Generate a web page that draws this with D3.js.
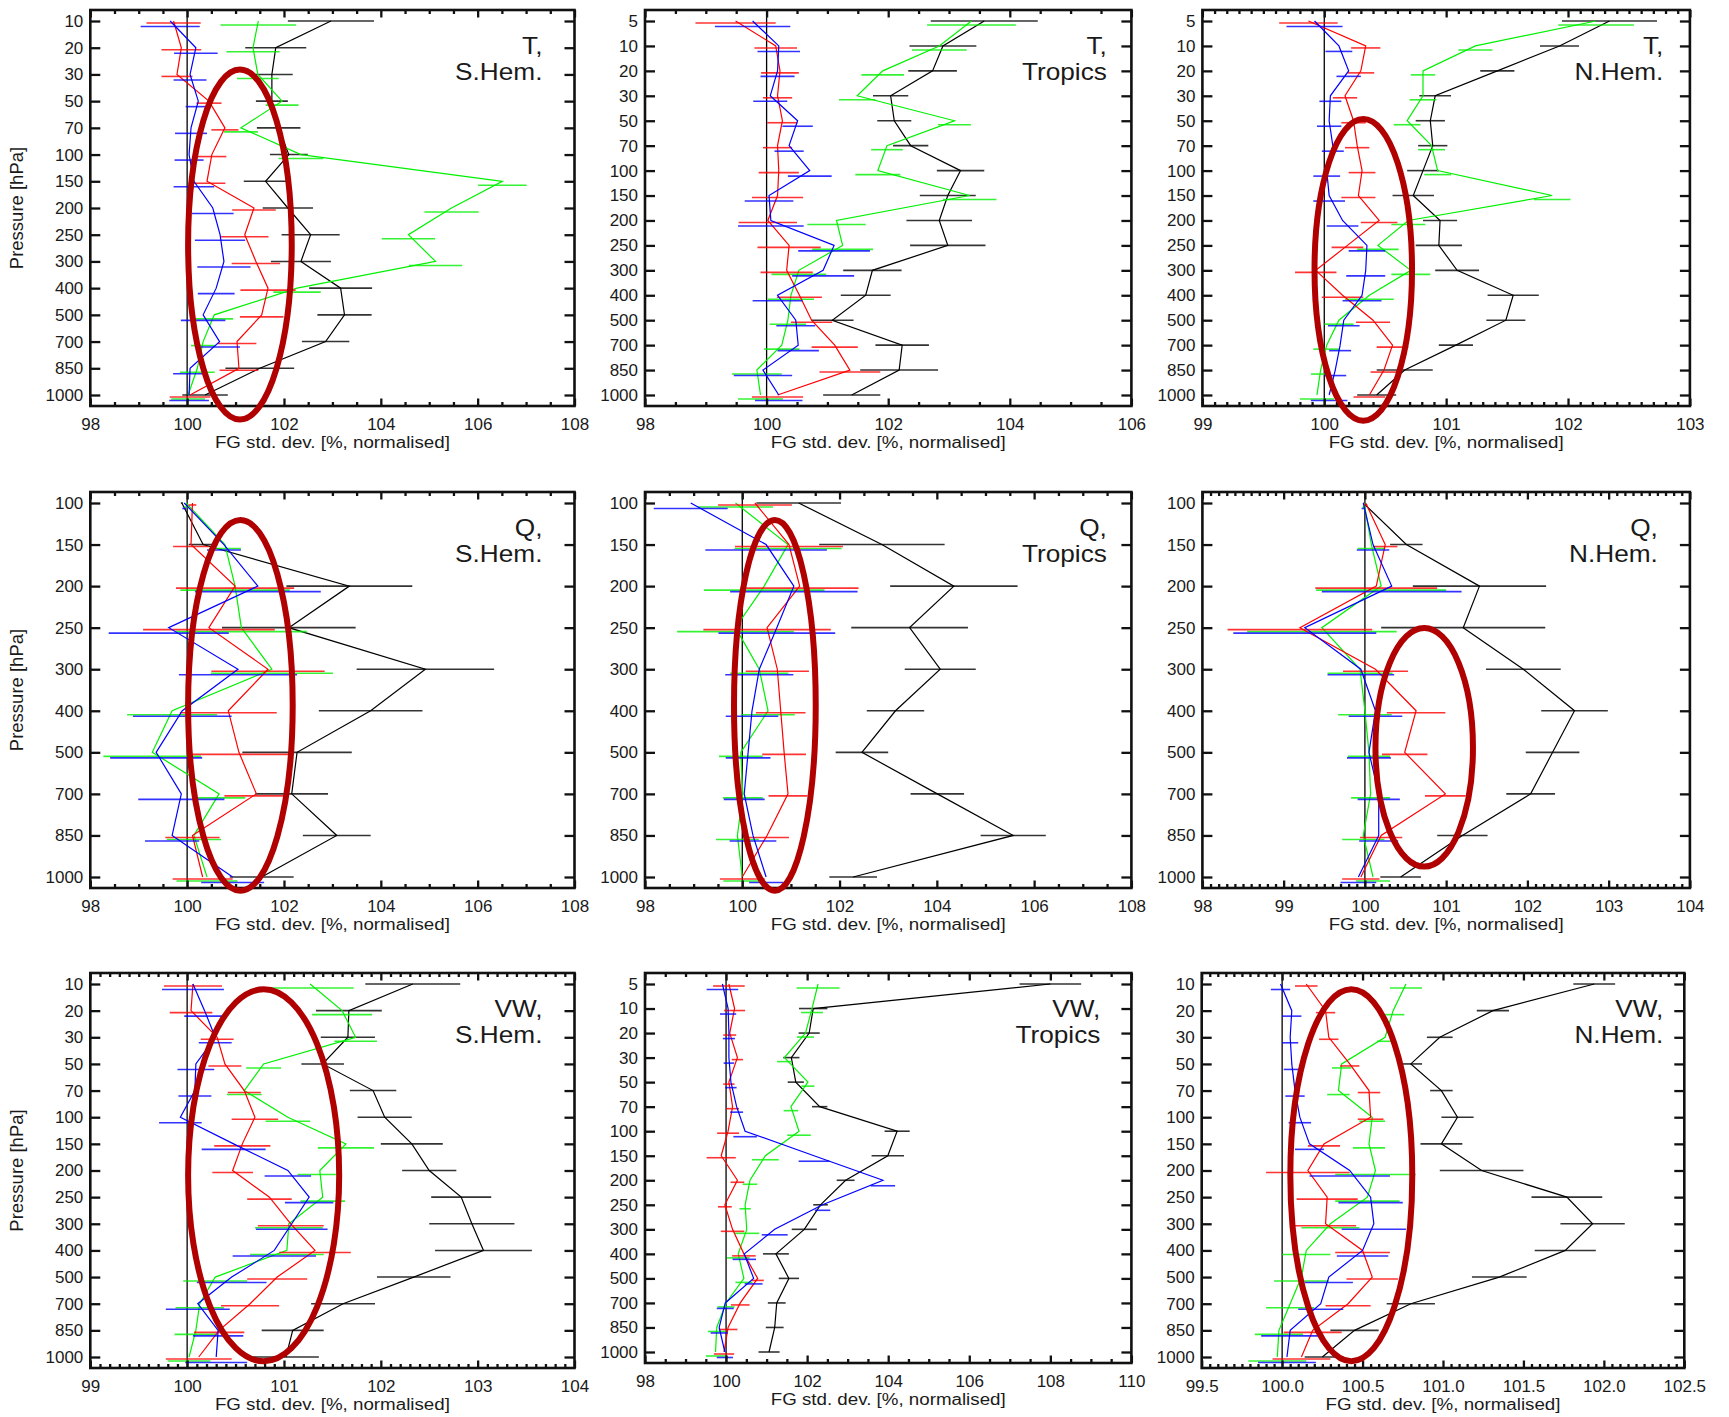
<!DOCTYPE html>
<html>
<head>
<meta charset="utf-8">
<script src="https://cdn.jsdelivr.net/npm/d3@7"></script>
<style>
  body { margin: 0; background: #fff; }
  svg { display: block; }
  text { font-family: "Liberation Sans", Arial, Helvetica, sans-serif; fill: #1a1a1a; }
</style>
</head>
<body>
<div id="chart"></div>
<script>
// Pressure levels [hPa]
const levels5 = [5, 10, 20, 30, 50, 70, 100, 150, 200, 250, 300, 400, 500, 700, 850, 1000]
const levels10 = [10, 20, 30, 50, 70, 100, 150, 200, 250, 300, 400, 500, 700, 850, 1000]
const levels100 = [100, 150, 200, 250, 300, 400, 500, 700, 850, 1000]

// T, S.Hem.
const tSH_k = [102.97, 101.83, 101.75, 101.75, 101.89, 102.10, 101.62, 102.08, 102.55, 102.35, 103.17, 103.25, 102.86, 101.50, 100.37]
const tSH_kErr = [0.89, 0.63, 0.43, 0.33, 0.45, 0.39, 0.45, 0.52, 0.60, 0.62, 0.65, 0.56, 0.49, 0.71, 0.47]
const tSH_g = [101.47, 101.36, 101.46, 101.96, 101.11, 102.35, 106.51, 105.46, 104.57, 105.13, 102.27, 100.56, 100.33, 100.21, 100.02]
const tSH_gErr = [0.78, 0.55, 0.43, 0.34, 0.35, 0.46, 0.50, 0.56, 0.55, 0.55, 0.49, 0.39, 0.25, 0.36, 0.35]
const tSH_r = [99.72, 99.88, 99.79, 100.45, 100.78, 100.51, 100.41, 101.38, 101.19, 101.42, 101.67, 101.54, 101.03, 101.07, 100.06]
const tSH_rErr = [0.56, 0.41, 0.32, 0.26, 0.28, 0.30, 0.38, 0.45, 0.49, 0.50, 0.57, 0.45, 0.40, 0.40, 0.42]
const tSH_b = [99.65, 100.18, 100.06, 100.23, 100.08, 100.04, 100.14, 100.53, 100.68, 100.76, 100.60, 100.33, 100.67, 100.06, 100.04]
const tSH_bErr = [0.61, 0.45, 0.34, 0.26, 0.33, 0.30, 0.42, 0.43, 0.52, 0.55, 0.38, 0.46, 0.42, 0.35, 0.41]

// T, Tropics
const tTR_k = [103.58, 102.90, 102.73, 102.04, 102.10, 102.37, 103.19, 102.98, 102.84, 102.98, 101.74, 101.63, 101.08, 102.23, 102.18, 101.40]
const tTR_kErr = [0.88, 0.55, 0.40, 0.29, 0.28, 0.29, 0.39, 0.46, 0.54, 0.62, 0.48, 0.41, 0.35, 0.44, 0.64, 0.47]
const tTR_g = [103.37, 102.84, 101.91, 101.49, 103.09, 101.98, 101.83, 103.34, 101.15, 101.25, 100.53, 100.40, 100.35, 100.25, 99.84, 99.90]
const tTR_gErr = [0.73, 0.45, 0.35, 0.30, 0.27, 0.26, 0.37, 0.44, 0.48, 0.50, 0.45, 0.38, 0.30, 0.29, 0.41, 0.37]
const tTR_r = [99.49, 100.15, 100.22, 100.18, 100.26, 100.18, 100.20, 100.18, 100.02, 100.37, 100.33, 100.54, 100.74, 101.12, 101.37, 100.18]
const tTR_rErr = [0.66, 0.35, 0.31, 0.24, 0.25, 0.24, 0.33, 0.42, 0.48, 0.52, 0.43, 0.37, 0.34, 0.38, 0.50, 0.42]
const tTR_b = [99.77, 100.20, 100.18, 100.06, 100.51, 100.37, 100.71, 100.04, 100.07, 101.11, 100.93, 100.18, 100.48, 100.52, 99.94, 100.20]
const tTR_bErr = [0.62, 0.35, 0.28, 0.28, 0.25, 0.24, 0.36, 0.40, 0.54, 0.59, 0.51, 0.41, 0.32, 0.34, 0.48, 0.39]

// T, N.Hem.
const tNH_k = [102.34, 101.93, 101.42, 100.91, 100.87, 100.89, 100.81, 100.73, 100.95, 100.94, 101.09, 101.55, 101.49, 101.08, 100.66, 100.43]
const tNH_kErr = [0.39, 0.16, 0.14, 0.13, 0.12, 0.12, 0.13, 0.17, 0.14, 0.19, 0.18, 0.21, 0.16, 0.14, 0.23, 0.16]
const tNH_g = [102.23, 101.24, 100.81, 100.81, 100.68, 100.88, 100.93, 101.87, 100.69, 100.44, 100.71, 100.37, 100.12, 100.02, 99.97, 99.94]
const tNH_gErr = [0.31, 0.14, 0.10, 0.11, 0.11, 0.11, 0.11, 0.15, 0.14, 0.17, 0.16, 0.20, 0.12, 0.11, 0.08, 0.14]
const tNH_r = [99.87, 100.34, 100.30, 100.17, 100.24, 100.27, 100.31, 100.28, 100.45, 100.19, 99.93, 100.15, 100.40, 100.56, 100.49, 100.37]
const tNH_rErr = [0.24, 0.12, 0.11, 0.10, 0.10, 0.10, 0.11, 0.14, 0.15, 0.13, 0.17, 0.17, 0.14, 0.13, 0.11, 0.13]
const tNH_b = [99.92, 100.12, 100.20, 100.05, 100.04, 100.07, 100.02, 100.04, 100.15, 100.35, 100.34, 100.31, 100.16, 100.13, 100.09, 100.04]
const tNH_bErr = [0.23, 0.11, 0.10, 0.09, 0.10, 0.09, 0.11, 0.13, 0.13, 0.15, 0.16, 0.16, 0.13, 0.09, 0.09, 0.15]

// Q, S.Hem.
const qSH_k = [99.89, 100.33, 103.35, 102.10, 104.92, 103.79, 102.27, 102.16, 103.09, 101.54]
const qSH_kErr = [0.02, 0.30, 1.30, 1.38, 1.42, 1.07, 1.13, 0.75, 0.70, 0.66]
const qSH_g = [99.98, 100.78, 100.99, 101.12, 101.75, 99.69, 99.28, 100.66, 100.14, 100.41]
const qSH_gErr = [0.04, 0.33, 1.13, 1.35, 1.26, 0.93, 1.01, 0.54, 0.56, 0.63]
const qSH_r = [100.11, 100.08, 100.99, 100.45, 101.67, 100.85, 101.07, 101.43, 100.11, 100.32]
const qSH_rErr = [0.08, 0.37, 1.22, 1.36, 1.17, 1.00, 1.02, 0.66, 0.56, 0.62]
const qSH_b = [99.94, 100.76, 101.46, 99.62, 101.05, 99.90, 99.36, 99.88, 99.69, 100.94]
const qSH_bErr = [0.04, 0.35, 1.30, 1.24, 1.22, 1.02, 0.95, 0.89, 0.56, 0.65]

// Q, Tropics
const qTR_k = [101.16, 102.87, 104.35, 103.44, 104.07, 103.15, 102.46, 104.01, 105.57, 102.28]
const qTR_kErr = [0.87, 1.29, 1.31, 1.20, 0.73, 0.59, 0.54, 0.55, 0.67, 0.49]
const qTR_g = [99.86, 100.94, 100.45, 99.86, 100.35, 100.53, 99.97, 100.01, 99.90, 100.00]
const qTR_gErr = [0.77, 1.10, 1.24, 1.20, 0.60, 0.55, 0.45, 0.41, 0.44, 0.39]
const qTR_r = [100.26, 100.96, 101.18, 100.51, 100.72, 100.79, 100.86, 100.94, 100.51, 100.00]
const qTR_rErr = [0.76, 1.11, 1.21, 1.31, 0.65, 0.51, 0.45, 0.40, 0.45, 0.46]
const qTR_b = [98.94, 100.49, 101.06, 100.71, 100.35, 100.20, 100.12, 100.04, 100.22, 100.49]
const qTR_bErr = [0.76, 1.25, 1.31, 1.20, 0.70, 0.54, 0.46, 0.42, 0.48, 0.35]

// Q, N.Hem.
const qNH_k = [99.98, 100.51, 101.41, 101.21, 101.95, 102.58, 102.31, 102.04, 101.20, 100.44]
const qNH_kErr = [0.00, 0.20, 0.82, 1.01, 0.46, 0.41, 0.33, 0.30, 0.31, 0.25]
const qNH_g = [99.99, 100.08, 100.20, 99.47, 99.94, 100.00, 100.05, 100.07, 99.98, 100.10]
const qNH_gErr = [0.02, 0.17, 0.80, 0.92, 0.40, 0.33, 0.26, 0.24, 0.26, 0.21]
const qNH_r = [100.01, 100.25, 100.14, 99.20, 100.13, 100.63, 100.49, 100.99, 100.20, 99.95]
const qNH_rErr = [0.02, 0.15, 0.75, 0.89, 0.40, 0.36, 0.28, 0.25, 0.26, 0.23]
const qNH_b = [99.98, 100.10, 100.33, 99.26, 99.95, 100.13, 100.05, 100.17, 100.17, 99.92]
const qNH_bErr = [0.02, 0.20, 0.86, 0.88, 0.41, 0.33, 0.27, 0.26, 0.24, 0.22]

// VW, S.Hem.
const vSH_k = [102.33, 101.67, 101.66, 101.40, 101.92, 102.04, 102.32, 102.50, 102.83, 102.94, 103.06, 102.34, 101.61, 101.09, 101.02]
const vSH_kErr = [0.49, 0.34, 0.28, 0.22, 0.24, 0.28, 0.32, 0.28, 0.31, 0.44, 0.50, 0.38, 0.33, 0.32, 0.34]
const vSH_g = [101.27, 101.60, 101.74, 100.79, 100.59, 101.04, 101.64, 101.37, 101.40, 101.05, 101.03, 100.29, 100.13, 100.09, 100.02]
const vSH_gErr = [0.45, 0.31, 0.22, 0.18, 0.18, 0.23, 0.29, 0.23, 0.23, 0.35, 0.38, 0.33, 0.25, 0.22, 0.22]
const vSH_r = [100.06, 100.04, 100.31, 100.39, 100.59, 100.70, 100.57, 100.47, 100.85, 101.07, 101.32, 100.93, 100.65, 100.33, 100.12]
const vSH_rErr = [0.30, 0.22, 0.17, 0.17, 0.17, 0.24, 0.29, 0.21, 0.23, 0.34, 0.37, 0.31, 0.30, 0.26, 0.34]
const vSH_b = [100.06, 100.18, 100.29, 100.09, 100.08, 99.93, 100.48, 101.04, 101.26, 101.08, 100.90, 100.46, 100.11, 100.32, 100.30]
const vSH_bErr = [0.32, 0.21, 0.17, 0.19, 0.17, 0.22, 0.33, 0.24, 0.25, 0.37, 0.43, 0.36, 0.33, 0.26, 0.32]

// VW, Tropics
const vTR_k = [108.00, 102.15, 102.05, 101.61, 101.72, 102.31, 104.22, 103.99, 102.95, 102.33, 101.93, 101.23, 101.55, 101.25, 101.20, 101.06]
const vTR_kErr = [0.76, 0.35, 0.26, 0.20, 0.20, 0.19, 0.31, 0.40, 0.22, 0.18, 0.31, 0.32, 0.25, 0.22, 0.22, 0.26]
const vTR_g = [102.27, 102.12, 101.96, 101.44, 102.02, 101.60, 101.80, 100.97, 100.59, 100.47, 100.51, 100.30, 100.44, 100.00, 99.77, 99.74]
const vTR_gErr = [0.53, 0.27, 0.21, 0.18, 0.16, 0.18, 0.29, 0.33, 0.18, 0.14, 0.31, 0.28, 0.21, 0.21, 0.22, 0.24]
const vTR_r = [100.07, 100.21, 100.09, 100.28, 100.07, 100.16, 100.05, 99.88, 100.28, 99.97, 100.16, 100.44, 100.78, 100.35, 100.05, 99.95]
const vTR_rErr = [0.39, 0.26, 0.16, 0.14, 0.14, 0.16, 0.27, 0.36, 0.17, 0.17, 0.29, 0.29, 0.15, 0.23, 0.23, 0.25]
const vTR_b = [99.91, 100.05, 100.07, 100.07, 100.12, 100.26, 100.47, 102.17, 103.87, 102.38, 101.20, 100.45, 100.68, 99.98, 99.83, 99.97]
const vTR_bErr = [0.39, 0.20, 0.15, 0.13, 0.14, 0.16, 0.29, 0.38, 0.30, 0.19, 0.32, 0.29, 0.22, 0.21, 0.21, 0.20]

// VW, N.Hem.
const vNH_k = [101.94, 101.31, 100.98, 100.80, 100.99, 101.09, 100.99, 101.24, 101.77, 101.93, 101.76, 101.35, 100.80, 100.45, 100.25]
const vNH_kErr = [0.13, 0.10, 0.08, 0.07, 0.07, 0.10, 0.13, 0.26, 0.22, 0.20, 0.19, 0.17, 0.15, 0.15, 0.11]
const vNH_g = [100.77, 100.69, 100.64, 100.37, 100.35, 100.56, 100.54, 100.58, 100.53, 100.30, 100.15, 100.12, 100.05, 99.98, 99.97]
const vNH_gErr = [0.10, 0.07, 0.05, 0.06, 0.07, 0.08, 0.10, 0.25, 0.20, 0.18, 0.15, 0.17, 0.15, 0.15, 0.18]
const vNH_r = [100.15, 100.27, 100.29, 100.42, 100.54, 100.55, 100.26, 100.16, 100.28, 100.27, 100.50, 100.56, 100.41, 100.19, 100.12]
const vNH_rErr = [0.07, 0.06, 0.06, 0.06, 0.07, 0.08, 0.10, 0.26, 0.19, 0.19, 0.17, 0.16, 0.14, 0.18, 0.18]
const vNH_b = [99.99, 100.06, 100.05, 100.06, 100.08, 100.11, 100.17, 100.42, 100.55, 100.57, 100.50, 100.29, 100.24, 100.05, 100.03]
const vNH_bErr = [0.06, 0.06, 0.05, 0.05, 0.06, 0.07, 0.09, 0.25, 0.20, 0.20, 0.16, 0.15, 0.14, 0.18, 0.18]

// Red highlight ellipses: [centre value, centre level index, half-width (value), half-height (levels)]
const ellTSH = [101.09, 8.37, 1.07, 6.55]
const ellTNH = [100.32, 9.98, 0.40, 6.05]
const ellQSH = [101.10, 4.87, 1.08, 4.46]
const ellQTR = [100.67, 4.87, 0.84, 4.46]
const ellQNH = [100.73, 5.88, 0.60, 2.87]
const ellVSH = [100.79, 7.18, 0.78, 6.98]
const ellVNH = [100.43, 7.18, 0.379, 6.98]

const W = 1729, H = 1417

// Panel layout: frame [x0, y0, x1, y1]
const panels = [
  { frame: [90.3, 10, 574.5, 406], domain: [98, 108], major: 2, minor: 0.5, levels: levels10, name: ['T,', 'S.Hem.'], dx: 32, yTitle: true,
    s: [[tSH_k, tSH_kErr], [tSH_g, tSH_gErr], [tSH_r, tSH_rErr], [tSH_b, tSH_bErr]], ell: ellTSH },
  { frame: [645, 10, 1131.4, 406], domain: [98, 106], major: 2, minor: 0.5, levels: levels5, name: ['T,', 'Tropics'], dx: 24.5,
    s: [[tTR_k, tTR_kErr], [tTR_g, tTR_gErr], [tTR_r, tTR_rErr], [tTR_b, tTR_bErr]], ell: null },
  { frame: [1202.4, 10, 1689.9, 406], domain: [99, 103], major: 1, minor: 0.1, levels: levels5, name: ['T,', 'N.Hem.'], dx: 26.5,
    s: [[tNH_k, tNH_kErr], [tNH_g, tNH_gErr], [tNH_r, tNH_rErr], [tNH_b, tNH_bErr]], ell: ellTNH },
  { frame: [90.3, 492, 574.5, 888], domain: [98, 108], major: 2, minor: 0.5, levels: levels100, name: ['Q,', 'S.Hem.'], dx: 32, yTitle: true,
    s: [[qSH_k, qSH_kErr], [qSH_g, qSH_gErr], [qSH_r, qSH_rErr], [qSH_b, qSH_bErr]], ell: ellQSH },
  { frame: [645, 492, 1131.4, 888], domain: [98, 108], major: 2, minor: 0.5, levels: levels100, name: ['Q,', 'Tropics'], dx: 24.5,
    s: [[qTR_k, qTR_kErr], [qTR_g, qTR_gErr], [qTR_r, qTR_rErr], [qTR_b, qTR_bErr]], ell: ellQTR },
  { frame: [1202.4, 492, 1689.9, 888], domain: [98, 104], major: 1, minor: 0.1, levels: levels100, name: ['Q,', 'N.Hem.'], dx: 32,
    s: [[qNH_k, qNH_kErr], [qNH_g, qNH_gErr], [qNH_r, qNH_rErr], [qNH_b, qNH_bErr]], ell: ellQNH },
  { frame: [90.3, 973, 574.5, 1368], domain: [99, 104], major: 1, minor: 0.1, levels: levels10, name: ['VW,', 'S.Hem.'], dx: 32, yTitle: true,
    s: [[vSH_k, vSH_kErr], [vSH_g, vSH_gErr], [vSH_r, vSH_rErr], [vSH_b, vSH_bErr]], ell: ellVSH },
  { frame: [645, 973, 1131.4, 1363], domain: [98, 110], major: 2, minor: 0.5, levels: levels5, name: ['VW,', 'Tropics'], dx: 31,
    s: [[vTR_k, vTR_kErr], [vTR_g, vTR_gErr], [vTR_r, vTR_rErr], [vTR_b, vTR_bErr]], ell: null },
  { frame: [1201.7, 973, 1684.3, 1368], domain: [99.5, 102.5], major: 0.5, minor: 0.05, levels: levels10, name: ['VW,', 'N.Hem.'], dx: 21,
    s: [[vNH_k, vNH_kErr], [vNH_g, vNH_gErr], [vNH_r, vNH_rErr], [vNH_b, vNH_bErr]], ell: ellVNH, fmt: '.1f' }
]

// black, green, red, blue ; error bars slightly offset downwards per series
const colors = ['#000000', '#00f000', '#ff0000', '#0000ff']
const barOffset = [0, 4, 2, 5.5]

const svg = d3.select('#chart').append('svg')
  .attr('width', W)
  .attr('height', H)

const steps = (a, b, st) => d3.range(0, Math.round((b - a) / st) + 1).map(i => +(a + i * st).toFixed(4))

panels.forEach(p => {
  const [x0, y0, x1, y1] = p.frame
  const x = d3.scaleLinear().domain(p.domain).range([x0, x1])
  const y = d3.scalePoint().domain(p.levels).range([y0 + 11, y1 - 11])
  const g = svg.append('g')

  const majors = steps(p.domain[0], p.domain[1], p.major)
  const minors = steps(p.domain[0], p.domain[1], p.minor).filter(v => !majors.some(m => Math.abs(m - v) < 1e-6))
  const fmt = d3.format(p.fmt || 'd')

  // reference line at 100
  g.append('line')
    .attr('x1', x(100)).attr('x2', x(100))
    .attr('y1', y0).attr('y2', y1)
    .attr('stroke', '#000').attr('stroke-width', 1.3)

  // series
  p.s.forEach(([vals, errs], si) => {
    g.selectAll(null)
      .data(vals)
      .enter()
      .append('line')
      .attr('x1', (d, i) => x(d - errs[i]))
      .attr('x2', (d, i) => x(d + errs[i]))
      .attr('y1', (d, i) => y(p.levels[i]) + barOffset[si])
      .attr('y2', (d, i) => y(p.levels[i]) + barOffset[si])
      .attr('stroke', colors[si])
      .attr('stroke-width', 1.6)
      .attr('stroke-opacity', 0.8)

    const line = d3.line()
      .x(d => x(d))
      .y((d, i) => y(p.levels[i]))
    g.append('path')
      .datum(vals)
      .attr('d', line)
      .attr('fill', 'none')
      .attr('stroke', colors[si])
      .attr('stroke-width', 1.2)
  })

  // axes, ticks inward
  const ax = (axis, tx, ty) => {
    const a = g.append('g').attr('transform', `translate(${tx},${ty})`).call(axis)
    a.select('.domain').remove()
    a.selectAll('.tick line').attr('stroke', '#111').attr('stroke-width', 2.3)
    return a
  }
  const noLab = () => ''
  const bx = ax(d3.axisBottom(x).tickValues(majors).tickSize(-7.5).tickPadding(12).tickFormat(fmt), 0, y1)
  bx.selectAll('text').attr('font-size', 17).attr('fill', '#1a1a1a')
    .style('font-family', '"Liberation Sans", Arial, sans-serif')
  ax(d3.axisBottom(x).tickValues(minors).tickSize(-4).tickFormat(noLab), 0, y1)
  ax(d3.axisTop(x).tickValues(majors).tickSize(-7.5).tickFormat(noLab), 0, y0)
  ax(d3.axisTop(x).tickValues(minors).tickSize(-4).tickFormat(noLab), 0, y0)
  const ly = ax(d3.axisLeft(y).tickSize(-10).tickPadding(7), x0, 0)
  ly.selectAll('text').attr('font-size', 17).attr('fill', '#1a1a1a')
    .style('font-family', '"Liberation Sans", Arial, sans-serif')
  ax(d3.axisRight(y).tickSize(-10).tickFormat(noLab), x1, 0)

  // frame
  g.append('rect')
    .attr('x', x0).attr('y', y0)
    .attr('width', x1 - x0).attr('height', y1 - y0)
    .attr('fill', 'none').attr('stroke', '#111').attr('stroke-width', 2.6)

  // highlight ellipse
  if (p.ell) {
    const [cv, ci, rv, ri] = p.ell
    g.append('ellipse')
      .attr('cx', x(cv))
      .attr('cy', y(p.levels[0]) + ci * y.step())
      .attr('rx', x(cv + rv) - x(cv))
      .attr('ry', ri * y.step())
      .attr('fill', 'none')
      .attr('stroke', '#b00000')
      .attr('stroke-width', 6)
  }

  // panel label (source figure is slightly stretched horizontally)
  const lab = g.append('g')
    .attr('transform', `translate(${x1 - p.dx},${y0}) scale(1.14,1)`)
    .append('text')
    .attr('text-anchor', 'end')
    .attr('font-size', 23)
  lab.append('tspan').attr('x', 0).attr('y', 44).text(p.name[0])
  lab.append('tspan').attr('x', 0).attr('y', 70).text(p.name[1])

  // axis titles
  g.append('text')
    .attr('x', (x0 + x1) / 2).attr('y', y1 + 42)
    .attr('text-anchor', 'middle')
    .attr('font-size', 16)
    .attr('textLength', 235)
    .attr('lengthAdjust', 'spacingAndGlyphs')
    .text('FG std. dev. [%, normalised]')

  if (p.yTitle) {
    g.append('text')
      .attr('transform', `translate(${x0 - 67},${(y0 + y1) / 2}) rotate(-90)`)
      .attr('text-anchor', 'middle')
      .attr('font-size', 18.5)
      .text('Pressure [hPa]')
  }
})
</script>
</body>
</html>
